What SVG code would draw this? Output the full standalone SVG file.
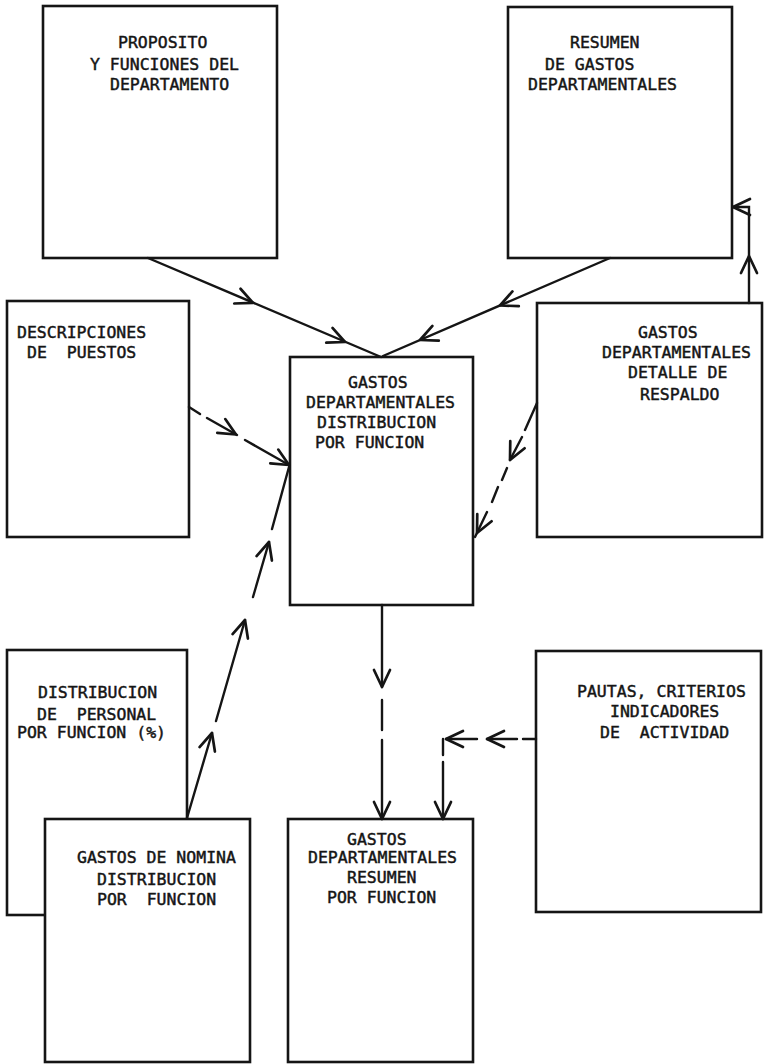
<svg xmlns="http://www.w3.org/2000/svg" xmlns:xlink="http://www.w3.org/1999/xlink" width="765" height="1064" viewBox="0 0 765 1064">
<style>
.box{fill:#fff;stroke:#151515;stroke-width:2.6}
.t{font-family:"DejaVu Sans Mono","Liberation Mono",monospace;font-size:16.5px;fill:#151515;stroke:#151515;stroke-width:0.45}
.ln{fill:none;stroke:#151515;stroke-width:2.4;stroke-linecap:round}
</style>
<defs>
<path id="ah" d="M-17,-8 L0,0 L-17,8" fill="none" stroke="#151515" stroke-width="2.7" stroke-linecap="round" stroke-linejoin="round"/>
</defs>
<rect width="765" height="1064" fill="#fff"/>

<g id="n-proposito">
<rect class="box" x="43" y="6" width="234" height="252"/>
<text class="t" x="118" y="48">PROPOSITO</text>
<text class="t" x="90" y="70">Y FUNCIONES DEL</text>
<text class="t" x="110" y="90">DEPARTAMENTO</text>
</g>

<g id="n-resumen-gastos">
<rect class="box" x="508" y="7" width="224" height="251"/>
<text class="t" x="570" y="48">RESUMEN</text>
<text class="t" x="545" y="70">DE GASTOS</text>
<text class="t" x="528" y="90">DEPARTAMENTALES</text>
</g>

<g id="n-descripciones">
<rect class="box" x="7" y="301" width="182" height="236"/>
<text class="t" x="17" y="338">DESCRIPCIONES</text>
<text class="t" x="27" y="358" xml:space="preserve">DE  PUESTOS</text>
</g>

<g id="n-distribucion-funcion">
<rect class="box" x="290" y="357" width="183" height="248"/>
<text class="t" x="348" y="388">GASTOS</text>
<text class="t" x="306" y="408">DEPARTAMENTALES</text>
<text class="t" x="317" y="428">DISTRIBUCION</text>
<text class="t" x="315" y="448">POR FUNCION</text>
</g>

<g id="n-detalle">
<rect class="box" x="537" y="303" width="225" height="234"/>
<text class="t" x="638" y="338">GASTOS</text>
<text class="t" x="602" y="358">DEPARTAMENTALES</text>
<text class="t" x="628" y="378">DETALLE DE</text>
<text class="t" x="640" y="400">RESPALDO</text>
</g>

<g id="n-personal">
<rect class="box" x="7" y="650" width="180" height="265"/>
<text class="t" x="38" y="698">DISTRIBUCION</text>
<text class="t" x="37" y="720" xml:space="preserve">DE  PERSONAL</text>
<text class="t" x="17" y="738">POR FUNCION (%)</text>
</g>

<g id="n-nomina">
<rect class="box" x="45" y="819" width="205" height="243"/>
<text class="t" x="77" y="863">GASTOS DE NOMINA</text>
<text class="t" x="97" y="885">DISTRIBUCION</text>
<text class="t" x="97" y="905" xml:space="preserve">POR  FUNCION</text>
</g>

<g id="n-resumen-funcion">
<rect class="box" x="288" y="819" width="185" height="243"/>
<text class="t" x="347" y="845">GASTOS</text>
<text class="t" x="308" y="863">DEPARTAMENTALES</text>
<text class="t" x="347" y="883">RESUMEN</text>
<text class="t" x="327" y="903">POR FUNCION</text>
</g>

<g id="n-pautas">
<rect class="box" x="536" y="651" width="225" height="261"/>
<text class="t" x="577" y="697">PAUTAS, CRITERIOS</text>
<text class="t" x="610" y="717">INDICADORES</text>
<text class="t" x="600" y="738" xml:space="preserve">DE  ACTIVIDAD</text>
</g>

<g id="connectors">
<path class="ln" d="M148,258 L381,357"/>
<use xlink:href="#ah" href="#ah" transform="translate(253,302.8) rotate(23.1)"/>
<use xlink:href="#ah" href="#ah" transform="translate(345,342) rotate(23.1)"/>
<path class="ln" d="M610,258 L383,356"/>
<use xlink:href="#ah" href="#ah" transform="translate(500,305.5) rotate(156.6)"/>
<use xlink:href="#ah" href="#ah" transform="translate(420,340) rotate(156.6)"/>
<path class="ln" d="M749,303 L749,207 L733,207"/>
<use xlink:href="#ah" href="#ah" transform="translate(749,256) rotate(-90)"/>
<use xlink:href="#ah" href="#ah" transform="translate(733,207) rotate(180)"/>
<path class="ln" d="M189,407 L200,414 M207,418 L237,435 M245,440 L289,465"/>
<use xlink:href="#ah" href="#ah" transform="translate(236,434.5) rotate(29.9)"/>
<use xlink:href="#ah" href="#ah" transform="translate(289,465) rotate(29.9)"/>
<path class="ln" d="M187,818 L212,733 M216,721 L245,620 M253,597 L269,542 M272,529 L289,467"/>
<use xlink:href="#ah" href="#ah" transform="translate(212,733) rotate(-73.7)"/>
<use xlink:href="#ah" href="#ah" transform="translate(245,620) rotate(-73.7)"/>
<use xlink:href="#ah" href="#ah" transform="translate(269,542) rotate(-73.7)"/>
<path class="ln" d="M537,403 L525,430 M522,437 L510,460 M507,468 L502,480 M498,487 L492,502 M487,512 L475,537"/>
<use xlink:href="#ah" href="#ah" transform="translate(510,460) rotate(116)"/>
<use xlink:href="#ah" href="#ah" transform="translate(477,533) rotate(116)"/>
<path class="ln" d="M382,605 L382,687 M382,700 L382,730 M382,740 L382,819"/>
<use xlink:href="#ah" href="#ah" transform="translate(382,687) rotate(90)"/>
<use xlink:href="#ah" href="#ah" transform="translate(382,819) rotate(90)"/>
<path class="ln" d="M536,739 L523,739 M517,739 L487,739 M477,739 L446,739 M443,739 L443,755 M443,762 L443,819"/>
<use xlink:href="#ah" href="#ah" transform="translate(487,739) rotate(180)"/>
<use xlink:href="#ah" href="#ah" transform="translate(446,739) rotate(180)"/>
<use xlink:href="#ah" href="#ah" transform="translate(443,819) rotate(90)"/>
</g>
</svg>
